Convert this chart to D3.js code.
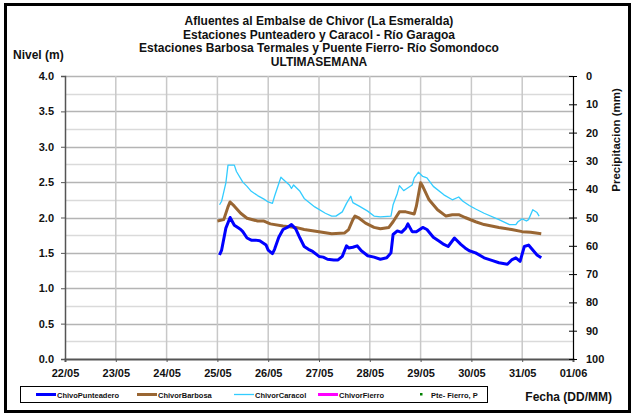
<!DOCTYPE html>
<html>
<head>
<meta charset="utf-8">
<script src="https://cdn.jsdelivr.net/npm/d3@7"></script>
<style>
  html, body { margin: 0; padding: 0; background: #fff; }
  svg { display: block; font-family: "Liberation Sans", Arial, sans-serif; font-weight: bold; }
</style>
</head>
<body>
<svg id="chart" width="632" height="415"></svg>
<script>
// Day labels on the time axis (one per day, 22/05 .. 01/06)
const dayLabels = ["22/05", "23/05", "24/05", "25/05", "26/05", "27/05", "28/05", "29/05", "30/05", "31/05", "01/06"];
const firstDataDay = 3; // records start on 25/05 00:00

// Left axis: level (m); right axis: precipitation (mm, inverted)
const levelTicks = [0, 0.5, 1, 1.5, 2, 2.5, 3, 3.5, 4];
const rainTicks = [0, 10, 20, 30, 40, 50, 60, 70, 80, 90, 100];

// Level records, [hours since 25/05 00:00, level m]
const punteadero = [
  [1, 1.47], [2, 1.54], [4, 1.85], [6, 2.00], [8, 1.89], [10, 1.85], [11, 1.83], [12, 1.80], [14, 1.71],
  [16, 1.68], [18, 1.68], [20, 1.67], [23, 1.61], [24, 1.54], [26, 1.49], [27, 1.55], [29, 1.72],
  [31, 1.83], [33, 1.86], [35, 1.90], [37, 1.84], [39, 1.71], [41, 1.59], [43, 1.55], [45, 1.52],
  [48, 1.45], [50, 1.44], [52, 1.41], [55, 1.40], [57, 1.40], [59, 1.45], [61, 1.60], [62, 1.57],
  [64, 1.58], [66, 1.60], [68, 1.53], [71, 1.46], [74, 1.44], [77, 1.41], [80, 1.43], [82, 1.50],
  [83, 1.76], [85, 1.81], [87, 1.79], [89, 1.85], [90, 1.91], [92, 1.80], [94, 1.80], [97, 1.86],
  [99, 1.83], [102, 1.72], [105, 1.66], [107, 1.62], [109, 1.59], [112, 1.71], [115, 1.62], [117, 1.57],
  [119, 1.53], [122, 1.50], [126, 1.43], [130, 1.39], [133, 1.36], [137, 1.34], [139, 1.40], [141, 1.43],
  [143, 1.38], [145, 1.59], [147, 1.61], [149, 1.54], [151, 1.47], [153, 1.43]
];

const barbosa = [
  [0, 1.95], [3, 1.97], [5, 2.15], [6, 2.22], [8, 2.16], [11, 2.06], [14, 1.99], [19, 1.95], [22, 1.95],
  [25, 1.91], [31, 1.88], [37, 1.86], [41, 1.83], [48, 1.80], [54, 1.77], [60, 1.78], [62, 1.83],
  [64, 1.97], [65, 2.02], [67, 1.99], [70, 1.92], [74, 1.86], [77, 1.84], [81, 1.86], [83, 1.94],
  [86, 2.08], [89, 2.08], [93, 2.05], [94, 2.16], [96, 2.49], [97, 2.44], [100, 2.25], [104, 2.11],
  [108, 2.02], [111, 2.04], [114, 2.04], [117, 2.00], [122, 1.94], [126, 1.90], [133, 1.86], [139, 1.83],
  [144, 1.80], [148, 1.79], [153, 1.77]
];

const caracol = [
  [1, 2.18], [2, 2.23], [4, 2.49], [5, 2.74], [8, 2.74], [9, 2.65], [12, 2.50], [14, 2.44], [16, 2.37],
  [19, 2.31], [22, 2.26], [24, 2.22], [26, 2.20], [27, 2.30], [30, 2.57], [31, 2.54], [34, 2.46],
  [35, 2.41], [36, 2.46], [39, 2.37], [41, 2.27], [46, 2.15], [51, 2.06], [54, 2.02], [56, 2.02],
  [59, 2.08], [61, 2.20], [63, 2.30], [64, 2.21], [67, 2.16], [71, 2.09], [74, 2.02], [77, 2.01],
  [82, 2.02], [83, 2.18], [85, 2.34], [86, 2.45], [88, 2.38], [89, 2.40], [92, 2.46], [93, 2.56],
  [95, 2.64], [97, 2.58], [99, 2.56], [102, 2.44], [107, 2.32], [111, 2.25], [114, 2.29], [116, 2.23],
  [119, 2.17], [122, 2.12], [126, 2.06], [133, 1.97], [138, 1.90], [141, 1.90], [142, 1.94], [144, 1.98],
  [146, 1.95], [147, 1.97], [149, 2.11], [151, 2.07], [152, 2.02]
];

const fierro = [];      // no readings this week
const fierroRain = [];  // no rainfall readings this week

const seriesNames = ["ChivoPunteadero", "ChivorBarbosa", "ChivorCaracol", "ChivorFierro", "Pte- Fierro, P"];
const titleLines = [
  "Afluentes al Embalse de Chivor (La Esmeralda)",
  "Estaciones Punteadero y Caracol - Río Garagoa",
  "Estaciones Barbosa Termales y Puente Fierro- Río Somondoco",
  "ULTIMASEMANA"
];

const svg = d3.select("#chart");
const plot = { left: 65, right: 573, top: 76, bottom: 359 };

const x = d3.scaleLinear().domain([0, dayLabels.length - 1]).range([plot.left, plot.right]);
const y = d3.scaleLinear().domain([0, 4]).range([plot.bottom, plot.top]);
const yRain = d3.scaleLinear().domain([0, 100]).range([plot.top, plot.bottom]);
const tx = h => x(firstDataDay + h / 24);

// Outer frame
svg.append("rect").attr("x", 5.5).attr("y", 4.5).attr("width", 624).attr("height", 407)
  .attr("fill", "none").attr("stroke", "#000").attr("stroke-width", 3);

// Horizontal grid every 0.25 m, darker on the labelled values
const g = svg.append("g");
d3.range(0.25, 4.01, 0.25).forEach(v => {
  const major = Math.abs(v * 2 - Math.round(v * 2)) < 1e-6;
  g.append("line").attr("x1", plot.left).attr("x2", plot.right)
    .attr("y1", Math.round(y(v)) + 0.5).attr("y2", Math.round(y(v)) + 0.5)
    .attr("stroke", major ? "#b4b4b4" : "#dadada").attr("stroke-width", 1.3);
});
// Vertical grid at every day
d3.range(1, dayLabels.length - 1).forEach(i => {
  g.append("line").attr("x1", x(i)).attr("x2", x(i)).attr("y1", plot.top).attr("y2", plot.bottom)
    .attr("stroke", "#c8c8c8").attr("stroke-width", 1.5);
});

// Left axis
const leftAxis = svg.append("g").attr("transform", `translate(${plot.left},0)`)
  .call(d3.axisLeft(y).tickValues(levelTicks).tickFormat(d3.format(".1f")).tickSize(4).tickPadding(7));
leftAxis.select(".domain").attr("stroke", "#555").attr("stroke-width", 1.5);
leftAxis.selectAll(".tick line").attr("stroke", "#555");
leftAxis.selectAll("text").attr("font-size", 11).attr("font-weight", "bold").attr("fill", "#111")
  .attr("font-family", "Liberation Sans, Arial, sans-serif");

// Bottom axis
const bottomAxis = svg.append("g").attr("transform", `translate(0,${plot.bottom})`)
  .call(d3.axisBottom(x).tickValues(d3.range(dayLabels.length)).tickFormat(i => dayLabels[i]).tickSize(3).tickPadding(7));
bottomAxis.select(".domain").attr("stroke", "#555").attr("stroke-width", 2);
bottomAxis.selectAll(".tick line").attr("stroke", "#555");
bottomAxis.selectAll("text").attr("font-size", 11).attr("font-weight", "bold").attr("fill", "#111")
  .attr("font-family", "Liberation Sans, Arial, sans-serif");

// Right axis (precipitation, 0 at top)
const rightAxis = svg.append("g").attr("transform", `translate(${plot.right},0)`)
  .call(d3.axisRight(yRain).tickValues(rainTicks).tickSize(4).tickPadding(9));
rightAxis.select(".domain").attr("stroke", "#000").attr("stroke-width", 1.2);
rightAxis.selectAll(".tick line").attr("stroke", "#000").attr("x1", -4);
rightAxis.selectAll("text").attr("font-size", 11).attr("font-weight", "bold").attr("fill", "#111")
  .attr("font-family", "Liberation Sans, Arial, sans-serif");

// Series
const line = d3.line().x(d => tx(d[0])).y(d => y(d[1]));
const styles = [
  { data: caracol, color: "#33ccff", width: 1.3 },
  { data: barbosa, color: "#996633", width: 3 },
  { data: punteadero, color: "#0000ff", width: 3 },
  { data: fierro, color: "#ff00ff", width: 3 }
];
styles.forEach(s => {
  if (!s.data.length) return;
  svg.append("path").datum(s.data).attr("d", line).attr("fill", "none")
    .attr("stroke", s.color).attr("stroke-width", s.width).attr("stroke-linejoin", "round");
});
svg.selectAll(".rain").data(fierroRain).join("rect").attr("class", "rain")
  .attr("x", d => tx(d[0]) - 1.5).attr("y", d => yRain(d[1]) - 1.5).attr("width", 3).attr("height", 3).attr("fill", "#008000");

// Titles
const titles = svg.append("g").attr("text-anchor", "middle").attr("font-size", 12).attr("fill", "#111");
titleLines.forEach((t, i) => {
  titles.append("text").attr("x", 319).attr("y", 25 + i * 13.5).text(t);
});

svg.append("text").attr("x", 13).attr("y", 59).attr("font-size", 12).attr("fill", "#111").text("Nivel (m)");
svg.append("text").attr("transform", "translate(620,140) rotate(-90)").attr("text-anchor", "middle")
  .attr("font-size", 11.5).attr("fill", "#111").text("Precipitacion (mm)");
svg.append("text").attr("x", 612).attr("y", 401).attr("text-anchor", "end").attr("font-size", 12)
  .attr("fill", "#111").text("Fecha (DD/MM)");

// Legend
const legend = svg.append("g");
legend.append("rect").attr("x", 20.5).attr("y", 386.5).attr("width", 467).attr("height", 16)
  .attr("fill", "#fff").attr("stroke", "#000").attr("stroke-width", 1);
const legendItems = [
  { name: seriesNames[0], color: "#0000ff", width: 3, x0: 36 },
  { name: seriesNames[1], color: "#996633", width: 3, x0: 137 },
  { name: seriesNames[2], color: "#33ccff", width: 1.3, x0: 234 },
  { name: seriesNames[3], color: "#ff00ff", width: 3, x0: 318 }
];
legendItems.forEach(it => {
  legend.append("line").attr("x1", it.x0).attr("x2", it.x0 + 20).attr("y1", 394.5).attr("y2", 394.5)
    .attr("stroke", it.color).attr("stroke-width", it.width);
  legend.append("text").attr("x", it.x0 + 21).attr("y", 397.5).attr("font-size", 7.5).attr("fill", "#111").text(it.name);
});
legend.append("rect").attr("x", 420).attr("y", 393).attr("width", 2.5).attr("height", 2.5).attr("fill", "#008000");
legend.append("text").attr("x", 431).attr("y", 397.5).attr("font-size", 7.5).attr("fill", "#111").text(seriesNames[4]);
</script>
</body>
</html>
